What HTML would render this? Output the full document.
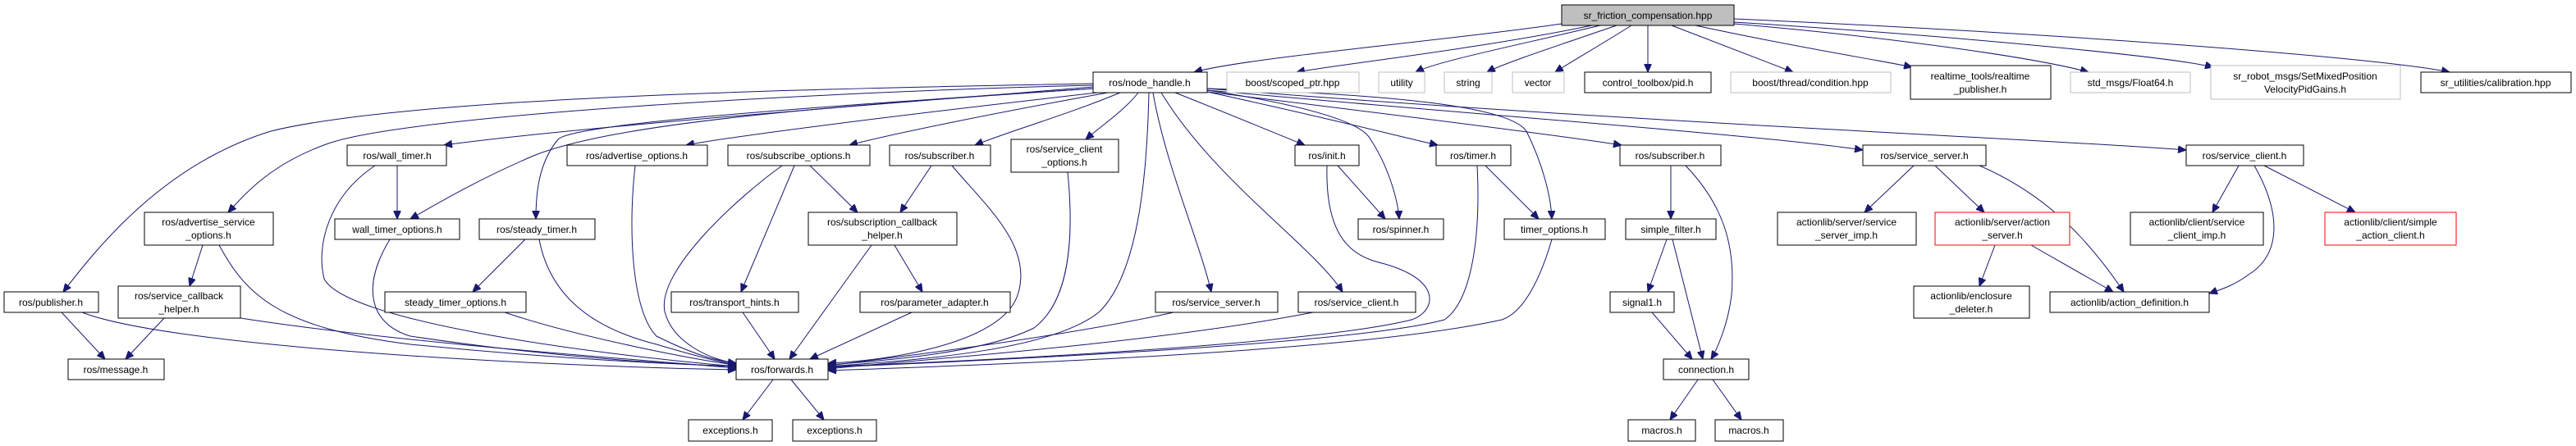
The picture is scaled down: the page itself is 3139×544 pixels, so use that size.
<!DOCTYPE html>
<html><head><meta charset="utf-8"><style>
html,body{margin:0;padding:0;background:#fff;}
svg{display:block}
text{font-family:"Liberation Sans",sans-serif;font-size:12px;text-anchor:middle;fill:#000}
rect{fill:#fff;stroke:#000;stroke-width:1}
.g{stroke:#bfbfbf}
.r{stroke:#ff0000}
path{fill:none;stroke:#191970;stroke-width:1}
</style></head><body>
<svg width="3139" height="544" viewBox="0 0 3139 544" xmlns="http://www.w3.org/2000/svg">
<defs><marker id="a" markerUnits="userSpaceOnUse" markerWidth="11" markerHeight="9" refX="10" refY="4.5" orient="auto"><path d="M0,0 L10,4.5 L0,9 z" style="fill:#191970;stroke:#191970"/></marker></defs>
<g marker-end="url(#a)">
<!-- root -->
<path d="M1903,29 C1760,50 1520,70 1455,88"/>
<path d="M1940,31 C1800,60 1620,80 1580,88"/>
<path d="M1950,31 C1850,55 1750,75 1725,88"/>
<path d="M1970,31 C1900,55 1830,78 1812,88"/>
<path d="M1988,31 C1950,55 1910,78 1895,88"/>
<path d="M2008,31 L2008,88"/>
<path d="M2037,31 C2100,55 2160,78 2185,88"/>
<path d="M2066,31 C2200,60 2300,75 2330,82"/>
<path d="M2113,29 C2300,45 2480,70 2545,88"/>
<path d="M2113,27 C2400,45 2650,70 2697,82"/>
<path d="M2113,23 C2500,40 2900,70 2985,88"/>
<!-- node_handle -->
<path d="M1332,102 C1000,108 500,118 330,160 C200,200 120,300 77,356"/>
<path d="M1332,104 C1000,112 500,140 400,175 C330,200 300,235 278,259"/>
<path d="M1332,106 C1100,125 700,155 541,177"/>
<path d="M1332,108 C1000,130 750,150 650,190 C580,220 530,250 500,267"/>
<path d="M1332,108 C1000,130 700,150 680,170 C655,200 653,240 653,267"/>
<path d="M1337,113 C1100,140 900,165 836,177"/>
<path d="M1350,113 C1200,140 1080,165 1035,177"/>
<path d="M1365,113 C1300,140 1230,160 1188,177"/>
<path d="M1387,113 C1370,135 1340,155 1323,170"/>
<path d="M1400,113 C1398,200 1390,330 1340,380 C1280,430 1100,440 1009,447"/>
<path d="M1405,113 C1420,200 1460,290 1476,356"/>
<path d="M1415,113 C1480,220 1600,300 1636,356"/>
<path d="M1432,113 C1500,140 1560,165 1590,177"/>
<path d="M1471,110 C1600,130 1660,150 1670,170 C1690,200 1703,240 1705,267"/>
<path d="M1471,112 C1600,140 1700,165 1752,177"/>
<path d="M1471,108 C1700,115 1840,130 1860,160 C1880,200 1890,240 1891,267"/>
<path d="M1471,112 C1700,140 1900,165 1976,177"/>
<path d="M1471,110 C1800,140 2150,165 2270,183"/>
<path d="M1471,108 C2000,150 2500,170 2664,183"/>
<!-- sub -->
<path d="M484,202 L484,267"/>
<path d="M457,202 C400,240 385,300 395,340 C420,390 700,430 897,447"/>
<path d="M247,299 L231,349"/>
<path d="M267,299 C300,360 340,400 500,420 C700,440 850,445 897,447"/>
<path d="M200,388 L153,438"/>
<path d="M293,388 C500,420 800,440 897,449"/>
<path d="M75,381 L128,438"/>
<path d="M100,381 C200,420 600,445 897,451"/>
<path d="M475,292 C440,350 450,395 500,410 C700,440 850,445 897,447"/>
<path d="M640,292 L576,356"/>
<path d="M657,292 C670,360 720,400 800,420 C850,435 880,442 897,445"/>
<path d="M615,381 C700,410 850,440 897,445"/>
<path d="M774,202 C765,280 770,380 800,410 C840,430 870,440 897,443"/>
<path d="M987,202 L1045,259"/>
<path d="M968,202 L903,356"/>
<path d="M953,202 C900,240 800,330 810,380 C820,420 870,440 897,443"/>
<path d="M1135,202 L1097,259"/>
<path d="M1160,202 C1200,250 1260,300 1240,360 C1220,420 1080,440 1009,443"/>
<path d="M1301,210 C1310,300 1300,370 1260,400 C1200,430 1080,440 1009,445"/>
<path d="M1090,299 L1124,356"/>
<path d="M1062,299 L962,438"/>
<path d="M905,381 L944,438"/>
<path d="M1111,381 L987,438"/>
<path d="M1430,381 C1300,410 1100,435 1009,446"/>
<path d="M1600,381 C1400,420 1100,440 1009,450"/>
<path d="M1630,202 L1688,267"/>
<path d="M1617,202 C1615,280 1640,310 1680,320 C1760,340 1750,380 1720,390 C1600,420 1200,440 1009,447"/>
<path d="M1810,202 L1875,267"/>
<path d="M1800,202 C1805,300 1790,370 1760,390 C1650,420 1200,440 1009,448"/>
<path d="M1891,292 C1880,330 1860,380 1830,390 C1650,430 1200,445 1009,452"/>
<path d="M2036,202 L2036,267"/>
<path d="M2054,202 C2100,250 2115,300 2110,360 C2105,400 2090,430 2085,438"/>
<path d="M2031,292 L2008,356"/>
<path d="M2038,292 L2075,438"/>
<path d="M2013,381 L2062,438"/>
<path d="M2069,463 L2035,512"/>
<path d="M2087,463 L2122,512"/>
<path d="M942,463 L905,512"/>
<path d="M964,463 L1004,512"/>
<path d="M2332,202 L2272,259"/>
<path d="M2358,202 L2418,259"/>
<path d="M2412,202 C2500,240 2550,300 2588,356"/>
<path d="M2431,299 L2412,349"/>
<path d="M2475,299 L2575,356"/>
<path d="M2728,202 L2696,259"/>
<path d="M2759,202 L2870,259"/>
<path d="M2747,202 C2780,260 2780,310 2740,335 C2720,350 2700,355 2692,358"/>
</g>
<!-- nodes -->
<rect x="1903" y="6" width="210" height="25" style="fill:#bfbfbf"/><text x="2008" y="23">sr_friction_compensation.hpp</text>
<rect x="1332" y="88" width="139" height="25"/><text x="1401" y="105">ros/node_handle.h</text>
<rect class="g" x="1495" y="88" width="161" height="25"/><text x="1575" y="105">boost/scoped_ptr.hpp</text>
<rect class="g" x="1680" y="88" width="56" height="25"/><text x="1708" y="105">utility</text>
<rect class="g" x="1760" y="88" width="58" height="25"/><text x="1789" y="105">string</text>
<rect class="g" x="1843" y="88" width="63" height="25"/><text x="1874" y="105">vector</text>
<rect x="1931" y="88" width="154" height="25"/><text x="2008" y="105">control_toolbox/pid.h</text>
<rect class="g" x="2109" y="88" width="195" height="25"/><text x="2206" y="105">boost/thread/condition.hpp</text>
<rect x="2328" y="80" width="171" height="41"/><text x="2413" y="97">realtime_tools/realtime</text><text x="2413" y="113">_publisher.h</text>
<rect class="g" x="2523" y="88" width="146" height="25"/><text x="2596" y="105">std_msgs/Float64.h</text>
<rect class="g" x="2694" y="80" width="231" height="41"/><text x="2809" y="97">sr_robot_msgs/SetMixedPosition</text><text x="2809" y="113">VelocityPidGains.h</text>
<rect x="2950" y="88" width="183" height="25"/><text x="3041" y="105">sr_utilities/calibration.hpp</text>

<rect x="423" y="177" width="121" height="25"/><text x="484" y="194">ros/wall_timer.h</text>
<rect x="691" y="177" width="171" height="25"/><text x="776" y="194">ros/advertise_options.h</text>
<rect x="887" y="177" width="173" height="25"/><text x="973" y="194">ros/subscribe_options.h</text>
<rect x="1084" y="177" width="123" height="25"/><text x="1145" y="194">ros/subscriber.h</text>
<rect x="1232" y="170" width="131" height="40"/><text x="1297" y="186">ros/service_client</text><text x="1297" y="202">_options.h</text>
<rect x="1578" y="177" width="78" height="25"/><text x="1617" y="194">ros/init.h</text>
<rect x="1750" y="177" width="91" height="25"/><text x="1795" y="194">ros/timer.h</text>
<rect x="1974" y="177" width="123" height="25"/><text x="2035" y="194">ros/subscriber.h</text>
<rect x="2270" y="177" width="150" height="25"/><text x="2345" y="194">ros/service_server.h</text>
<rect x="2664" y="177" width="143" height="25"/><text x="2735" y="194">ros/service_client.h</text>

<rect x="176" y="259" width="157" height="40"/><text x="254" y="275">ros/advertise_service</text><text x="254" y="291">_options.h</text>
<rect x="408" y="267" width="152" height="25"/><text x="484" y="284">wall_timer_options.h</text>
<rect x="584" y="267" width="141" height="25"/><text x="654" y="284">ros/steady_timer.h</text>
<rect x="985" y="259" width="181" height="40"/><text x="1075" y="275">ros/subscription_callback</text><text x="1075" y="291">_helper.h</text>
<rect x="1655" y="267" width="104" height="25"/><text x="1707" y="284">ros/spinner.h</text>
<rect x="1833" y="267" width="123" height="25"/><text x="1894" y="284">timer_options.h</text>
<rect x="1981" y="267" width="110" height="25"/><text x="2036" y="284">simple_filter.h</text>
<rect x="2166" y="259" width="169" height="40"/><text x="2250" y="275">actionlib/server/service</text><text x="2250" y="291">_server_imp.h</text>
<rect class="r" x="2358" y="259" width="164" height="40"/><text x="2440" y="275">actionlib/server/action</text><text x="2440" y="291">_server.h</text>
<rect x="2596" y="259" width="162" height="40"/><text x="2677" y="275">actionlib/client/service</text><text x="2677" y="291">_client_imp.h</text>
<rect class="r" x="2833" y="259" width="160" height="40"/><text x="2913" y="275">actionlib/client/simple</text><text x="2913" y="291">_action_client.h</text>

<rect x="5" y="356" width="115" height="25"/><text x="62" y="373">ros/publisher.h</text>
<rect x="144" y="349" width="149" height="39"/><text x="218" y="365">ros/service_callback</text><text x="218" y="381">_helper.h</text>
<rect x="469" y="356" width="172" height="25"/><text x="555" y="373">steady_timer_options.h</text>
<rect x="818" y="356" width="155" height="25"/><text x="895" y="373">ros/transport_hints.h</text>
<rect x="1048" y="356" width="183" height="25"/><text x="1139" y="373">ros/parameter_adapter.h</text>
<rect x="1408" y="356" width="149" height="25"/><text x="1482" y="373">ros/service_server.h</text>
<rect x="1582" y="356" width="143" height="25"/><text x="1653" y="373">ros/service_client.h</text>
<rect x="1962" y="356" width="78" height="25"/><text x="2001" y="373">signal1.h</text>
<rect x="2332" y="349" width="141" height="39"/><text x="2402" y="365">actionlib/enclosure</text><text x="2402" y="381">_deleter.h</text>
<rect x="2498" y="356" width="194" height="25"/><text x="2595" y="373">actionlib/action_definition.h</text>

<rect x="83" y="438" width="117" height="25"/><text x="141" y="455">ros/message.h</text>
<rect x="897" y="438" width="112" height="25"/><text x="953" y="455">ros/forwards.h</text>
<rect x="2027" y="438" width="104" height="25"/><text x="2079" y="455">connection.h</text>

<rect x="839" y="512" width="102" height="26"/><text x="890" y="529">exceptions.h</text>
<rect x="966" y="512" width="102" height="26"/><text x="1017" y="529">exceptions.h</text>
<rect x="1984" y="512" width="82" height="26"/><text x="2025" y="529">macros.h</text>
<rect x="2090" y="512" width="83" height="26"/><text x="2131" y="529">macros.h</text>
</svg>
</body></html>
